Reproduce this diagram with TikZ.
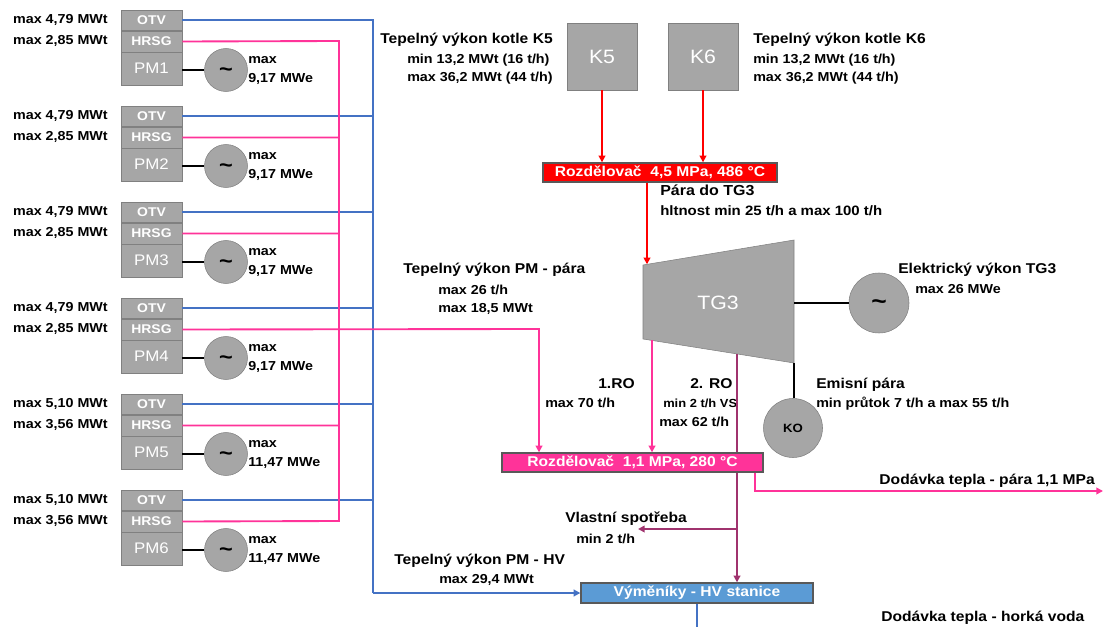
\documentclass[tikz,border=0pt]{standalone}
\usepackage{fontspec}
\setmainfont{Liberation Sans}[FakeStretch=1.1]
\usetikzlibrary{arrows.meta,calc}
\definecolor{bgray}{HTML}{A6A6A6}
\definecolor{bborder}{HTML}{808080}
\definecolor{lblue}{HTML}{4472C4}
\definecolor{lpink}{HTML}{FF3399}
\definecolor{lpurple}{HTML}{A0336E}
\definecolor{lred}{HTML}{FF0000}
\definecolor{vblue}{HTML}{5B9BD5}
\definecolor{dborder}{HTML}{595959}
\newcommand\fsz[1]{\fontsize{#1}{#1}\selectfont}
\newcommand\pmunit[5]{%
  \node[unitbox, minimum height=15pt, font=\bfseries\fsz{9.5pt}] (otv#1) at (151.5,#2+10) {OTV};
  \node[unitbox, minimum height=15.75pt, font=\bfseries\fsz{9.5pt}] (hrsg#1) at (151.5,#2+31.5) {HRSG};
  \node[unitbox, minimum height=24.75pt, font=\fsz{11.5pt}] (pm#1) at (151.5,#2+58.5) {PM#1};
  \node[gen] (g#1) at (226,#2+60) {};
  \node[tilde] (tl#1) at (g#1.center) {\textasciitilde};
  \draw[blk] (pm#1.east |- g#1.west) -- (g#1.west);
  \node[sm, anchor=mid east] (la#1) at (108,#2+10) {max #3 MWt};
  \node[sm, anchor=mid east] (lb#1) at (108,#2+31) {max #4 MWt};
  \node[sm, anchor=mid west] (ma#1) at (248,#2+50) {max};
  \node[sm, anchor=mid west] (mb#1) at (248,#2+69) {#5 MWe};
}
\begin{document}
\begin{tikzpicture}[x=0.75pt,y=-0.75pt,
  hd/.style={inner sep=0pt, font=\bfseries\fsz{10.65pt}},
  sm/.style={inner sep=0pt, font=\bfseries\fsz{9.75pt}},
  unitbox/.style={draw=bborder, fill=bgray, inner sep=0pt, minimum width=45.75pt, text=white},
  gen/.style={circle, draw=bborder, fill=bgray, inner sep=0pt, minimum size=32.25pt},
  tilde/.style={inner sep=0pt, font=\bfseries\fsz{16pt}, yshift=-1.5pt},
  blk/.style={draw=black, line width=1.5pt},
  bline/.style={draw=lblue, line width=1.4pt},
  pline/.style={draw=lpink, line width=1.4pt},
  uline/.style={draw=lpurple, line width=1.4pt},
  rline/.style={draw=lred, line width=1.2pt},
  arr/.style={-{Triangle[length=5pt,width=5pt]}},
  bigbox/.style={draw=bborder, fill=bgray, inner sep=0pt, minimum width=52.5pt, minimum height=50.25pt, text=white, font=\fsz{14.5pt}},
  distbox/.style={draw=dborder, line width=1pt, inner sep=0pt, text=white, font=\bfseries\fsz{10.65pt}}
]
\useasboundingbox (0,0) rectangle (1103,627);

% --- PM units ---
\pmunit{1}{10}{4,79}{2,85}{9,17}
\pmunit{2}{106}{4,79}{2,85}{9,17}
\pmunit{3}{202}{4,79}{2,85}{9,17}
\pmunit{4}{298}{4,79}{2,85}{9,17}
\pmunit{5}{394}{5,10}{3,56}{11,47}
\pmunit{6}{490}{5,10}{3,56}{11,47}

% --- boilers ---
\node[bigbox] (K5) at (602,56.5) {K5};
\node[bigbox] (K6) at (703,56.5) {K6};
\node[hd, anchor=mid east] (k5a) at (553,40) {Tepelný výkon kotle K5};
\node[sm, anchor=mid west] (k5b) at (407,60) {min 13,2 MWt (16 t/h)};
\node[sm, anchor=mid west] (k5c) at (407,78) {max 36,2 MWt (44 t/h)};
\node[hd, anchor=mid west] (k6a) at (753,40) {Tepelný výkon kotle K6};
\node[sm, anchor=mid west] (k6b) at (753,60) {min 13,2 MWt (16 t/h)};
\node[sm, anchor=mid west] (k6c) at (753,78) {max 36,2 MWt (44 t/h)};

% --- turbine anchor points ---
\coordinate (tin) at (647,264.3);
\coordinate (ro1) at (652,340.4);
\coordinate (ro2) at (737,354);
\coordinate (koTop) at (794,363);
\coordinate (tgR) at (794,303);

% distributor 4,5
\node[distbox, fill=lred, minimum width=175.5pt, minimum height=14.25pt] (R45) at (660,172.5) {Rozdělovač\ \ 4,5 MPa, 486 °C};
\draw[rline, arr] (K5.south) -- (K5.south |- R45.north);
\draw[rline, arr] (K6.south) -- (K6.south |- R45.north);
\draw[rline, arr] (R45.south -| tin) -- (tin);

% turbine
\draw[draw=bborder, fill=bgray] (643,265) -- (794,240) -- (794,363) -- (643,339) -- cycle;
\node[inner sep=0pt, text=white, font=\fsz{14.5pt}] (TG3) at (718,303) {TG3};
\node[gen, minimum size=45pt] (GT) at (879,303) {};
\node[tilde, font=\bfseries\fsz{18pt}] (GTt) at (GT.center) {\textasciitilde};
\draw[blk] (tgR) -- (GT.west);
\node[gen, minimum size=44.25pt] (KO) at (793,428) {};
\node[inner sep=0pt, font=\bfseries\fsz{9pt}] (KOt) at (KO.center) {KO};
\draw[blk, line width=1.2pt] (koTop) -- (koTop |- KO.north);

\node[hd, anchor=mid west, font=\bfseries\fsz{10.9pt}] (para) at (660,192) {Pára do TG3};
\node[sm, anchor=mid west, font=\bfseries\fsz{10.2pt}] (hlt) at (660,212) {hltnost min 25 t/h a max 100 t/h};
\node[hd, anchor=mid west] (pmp) at (403,270) {Tepelný výkon PM - pára};
\node[sm, anchor=mid west] (pmp1) at (438,291) {max 26 t/h};
\node[sm, anchor=mid west] (pmp2) at (438,309) {max 18,5 MWt};
\node[hd, anchor=mid west] (el) at (898,270) {Elektrický výkon TG3};
\node[sm, anchor=mid west] (el1) at (915,290) {max 26 MWe};
\node[hd, anchor=mid west] (em) at (816,385) {Emisní pára};
\node[sm, anchor=mid west] (em1) at (816,404) {min průtok 7 t/h a max 55 t/h};
\node[hd, anchor=mid west] (r1) at (598,385) {1.RO};
\node[sm, anchor=mid west] (r1a) at (545,404) {max 70 t/h};
\node[hd, anchor=mid west] (r2) at (690,385) {2. RO};
\node[sm, anchor=mid west, font=\bfseries\fsz{8.8pt}] (r2a) at (663,404) {min 2 t/h VS};
\node[sm, anchor=mid west] (r2b) at (659,423) {max 62 t/h};

% --- hot water exchanger ---
\node[distbox, fill=vblue, minimum width=174pt, minimum height=15pt] (VY) at (697,593) {Výměníky - HV stanice};

% purple line (behind R11)
\draw[uline, arr] (ro2) -- (ro2 |- VY.north);
\coordinate (vsJ) at (737,529);
\coordinate (vsE) at (638,529);
\draw[uline, arr] (vsJ) -- (vsE);

% distributor 1,1
\node[distbox, fill=lpink, minimum width=195.75pt, minimum height=14.25pt] (R11) at (632.5,462.5) {Rozdělovač\ \ 1,1 MPa, 280 °C};
\draw[pline, arr] (ro1) -- (ro1 |- R11.north);

% bus lines
\coordinate (bbTop) at (373,20);
\coordinate (bbBot) at (373,593);
\coordinate (pbTop) at (339,41);
\coordinate (pbBot) at (339,521);
\coordinate (pmTurn) at (539,329);
\coordinate (pj2) at (339,137.5);
\coordinate (pj3) at (339,233.5);
\coordinate (pj5) at (339,425.5);
\draw[bline] (otv1.east) -- (bbTop) -- (bbBot);
\draw[bline] (otv2.east) -- (otv2.east -| bbTop);
\draw[bline] (otv3.east) -- (otv3.east -| bbTop);
\draw[bline] (otv4.east) -- (otv4.east -| bbTop);
\draw[bline] (otv5.east) -- (otv5.east -| bbTop);
\draw[bline] (otv6.east) -- (otv6.east -| bbTop);
\draw[bline, arr] (bbBot) -- (VY.west);
\draw[pline] (hrsg1.east) -- (pbTop) -- (pbBot) -- (hrsg6.east)
  (hrsg2.east) -- (pj2) (hrsg3.east) -- (pj3) (hrsg5.east) -- (pj5);
\draw[pline, arr] (hrsg4.east) -- (pmTurn) -- (pmTurn |- R11.north);

% outputs
\coordinate (pOutT) at (755,491);
\coordinate (pOutE) at (1103,491);
\draw[pline, arr] (R11.south -| pOutT) -- (pOutT) -- (pOutE);
\coordinate (hvOut) at (697,627);
\draw[bline] (VY.south) -- (hvOut);

\node[hd, anchor=mid east] (dod1) at (1095,481) {Dodávka tepla - pára 1,1 MPa};
\node[hd, anchor=mid west] (vs) at (565,519) {Vlastní spotřeba};
\node[sm, anchor=mid west] (vs1) at (576,540) {min 2 t/h};
\node[hd, anchor=mid west] (hv) at (394,561) {Tepelný výkon PM - HV};
\node[sm, anchor=mid west] (hv1) at (439,580) {max 29,4 MWt};
\node[hd, anchor=mid west] (dod2) at (881,618) {Dodávka tepla - horká voda};
\end{tikzpicture}
\end{document}
